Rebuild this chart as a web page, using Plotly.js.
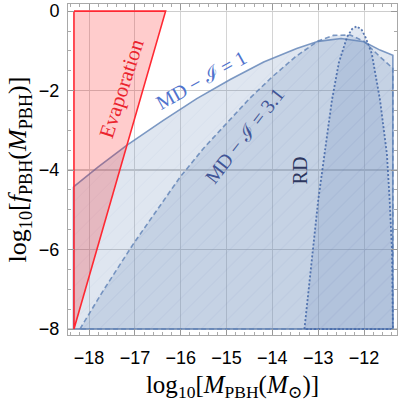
<!DOCTYPE html>
<html>
<head>
<meta charset="utf-8">
<script src="https://cdn.plot.ly/plotly-3.0.1.min.js"></script>
<style>
  html, body { margin: 0; padding: 0; background: #fff; }
  #chart { width: 400px; height: 404px; }
</style>
</head>
<body>
<div id="chart"></div>
<script>
////////// values
// evaporation triangle
var evapX = [-18.33, -16.33, -18.33, -18.33];
var evapY = [0, 0, -8, 0];

// MD, I = 1 (solid)
var md1X = [-18.34, -17.8, -17.18, -16.38, -15.65, -14.92, -14.19, -13.47, -13.0, -12.5, -12.0, -11.65, -11.37];
var md1Y = [-4.42, -3.92, -3.38, -2.75, -2.2, -1.72, -1.28, -0.94, -0.76, -0.69, -0.77, -0.98, -1.11];

// MD, I = 3.1 (dashed)
var md31X = [-18.2, -17.69, -17.03, -16.52, -16.01, -15.5, -15.0, -14.5, -14.0, -13.5, -13.0, -12.67, -12.3, -12.0, -11.65, -11.37];
var md31Y = [-8.0, -7.03, -5.85, -5.01, -4.17, -3.45, -2.82, -2.2, -1.65, -1.15, -0.75, -0.61, -0.6, -0.76, -1.15, -1.44];

// RD (dotted)
var rdX = [-13.3, -13.0, -12.7, -12.55, -12.37, -12.26, -12.16, -12.05, -11.97, -11.83, -11.65, -11.5, -11.44, -11.39, -11.37];
var rdY = [-8.0, -4.76, -2.24, -1.3, -0.65, -0.45, -0.38, -0.47, -0.65, -1.07, -2.24, -3.6, -4.76, -6.0, -8.0];

var fMin = -8;

var xTicks = [-18, -17, -16, -15, -14, -13, -12];
var yTicks = [-8, -6, -4, -2, 0];

////////// close the curves down to the floor
function closeDown(xs, ys) {
  var x = xs.slice(), y = ys.slice();
  if (y[y.length - 1] != fMin) { x.push(xs[xs.length - 1]); y.push(fMin); }
  if (y[0] != fMin) { x.push(xs[0]); y.push(fMin); }
  x.push(xs[0]); y.push(ys[0]);
  return [x, y];
}

var blue = 'rgb(94,129,181)';
var md1 = closeDown(md1X, md1Y);
var md31 = closeDown(md31X, md31Y);
var rd = closeDown(rdX, rdY);

function hatch(bg) {
  return {shape: '/', size: 12, solidity: 0.04, fgcolor: blue, fgopacity: 0.14, bgcolor: bg};
}

var data = [
  {
    x: md1[0], y: md1[1], type: 'scatter', mode: 'lines', fill: 'toself',
    fillcolor: 'rgba(94,129,181,0.2)', fillpattern: hatch('rgba(94,129,181,0.2)'),
    line: {color: 'rgba(94,129,181,0.8)', width: 1.6}, hoverinfo: 'skip'
  },
  {
    x: md31[0], y: md31[1], type: 'scatter', mode: 'lines', fill: 'toself',
    fillcolor: 'rgba(94,129,181,0.2)', fillpattern: hatch('rgba(94,129,181,0.2)'),
    line: {color: 'rgba(94,129,181,0.8)', width: 1.6, dash: '5px,3px'}, hoverinfo: 'skip'
  },
  {
    x: rd[0], y: rd[1], type: 'scatter', mode: 'lines', fill: 'toself',
    fillcolor: 'rgba(94,129,181,0.18)', fillpattern: hatch('rgba(94,129,181,0.18)'),
    line: {color: 'rgba(70,105,170,0.9)', width: 1.8, dash: '2px,2px'}, hoverinfo: 'skip'
  },
  {
    x: evapX, y: evapY, type: 'scatter', mode: 'lines', fill: 'toself',
    fillcolor: 'rgba(255,0,0,0.2)',
    line: {color: 'rgb(255,40,50)', width: 1.6}, hoverinfo: 'skip'
  }
];

var serif = 'Liberation Serif, DejaVu Serif, serif';

var layout = {
  width: 400, height: 404,
  margin: {l: 68, r: 3, t: 4, b: 69},
  paper_bgcolor: '#fff', plot_bgcolor: '#fff',
  showlegend: false,
  font: {family: 'Liberation Sans, Arial, sans-serif', size: 18, color: '#000'},
  xaxis: {
    range: [-18.46, -11.28], tickvals: xTicks, ticks: 'inside', ticklen: 6,
    tickcolor: '#999', showline: true, linecolor: '#a8a8a8', mirror: 'allticks',
    showgrid: true, gridcolor: 'rgb(212,212,212)', gridwidth: 1, zeroline: false,
    minor: {dtick: 0.2, ticks: 'inside', ticklen: 3, tickcolor: '#aaa', showgrid: false},
    ticklabelstandoff: 6,
    title: {text: 'log<sub>10</sub>[<i>M</i><sub>PBH</sub>(<i>M</i><sub>⊙</sub>)]',
            font: {family: serif, size: 25}, standoff: 8}
  },
  yaxis: {
    range: [-8.15, 0.18], tickvals: yTicks, ticks: 'inside', ticklen: 6,
    tickcolor: '#999', showline: true, linecolor: '#a8a8a8', mirror: 'allticks',
    showgrid: true, gridcolor: 'rgb(205,205,205)', gridwidth: 1.3, zeroline: false,
    minor: {dtick: 0.5, ticks: 'inside', ticklen: 3, tickcolor: '#aaa', showgrid: false},
    ticklabelstandoff: 4,
    title: {text: 'log<sub>10</sub>[<i>f</i><sub>PBH</sub>(<i>M</i><sub>PBH</sub>)]',
            font: {family: serif, size: 26}, standoff: 4}
  },
  annotations: [
    {x: -17.3, y: -1.95, text: 'Evaporation', showarrow: false, textangle: -72,
     font: {family: serif, size: 21, color: 'rgb(235,35,45)'}},
    {x: -15.56, y: -1.72, text: 'MD − ℐ = 1', showarrow: false, textangle: -29,
     font: {family: serif, size: 20, color: 'rgb(80,115,205)'}},
    {x: -14.6, y: -3.12, text: 'MD − ℐ = 3.1', showarrow: false, textangle: -52,
     font: {family: serif, size: 20, color: 'rgb(65,85,150)'}},
    {x: -13.39, y: -4.0, text: 'RD', showarrow: false, textangle: -90,
     font: {family: serif, size: 20, color: 'rgb(45,55,95)'}}
  ]
};

Plotly.newPlot('chart', data, layout, {staticPlot: true, displayModeBar: false});
</script>
</body>
</html>
